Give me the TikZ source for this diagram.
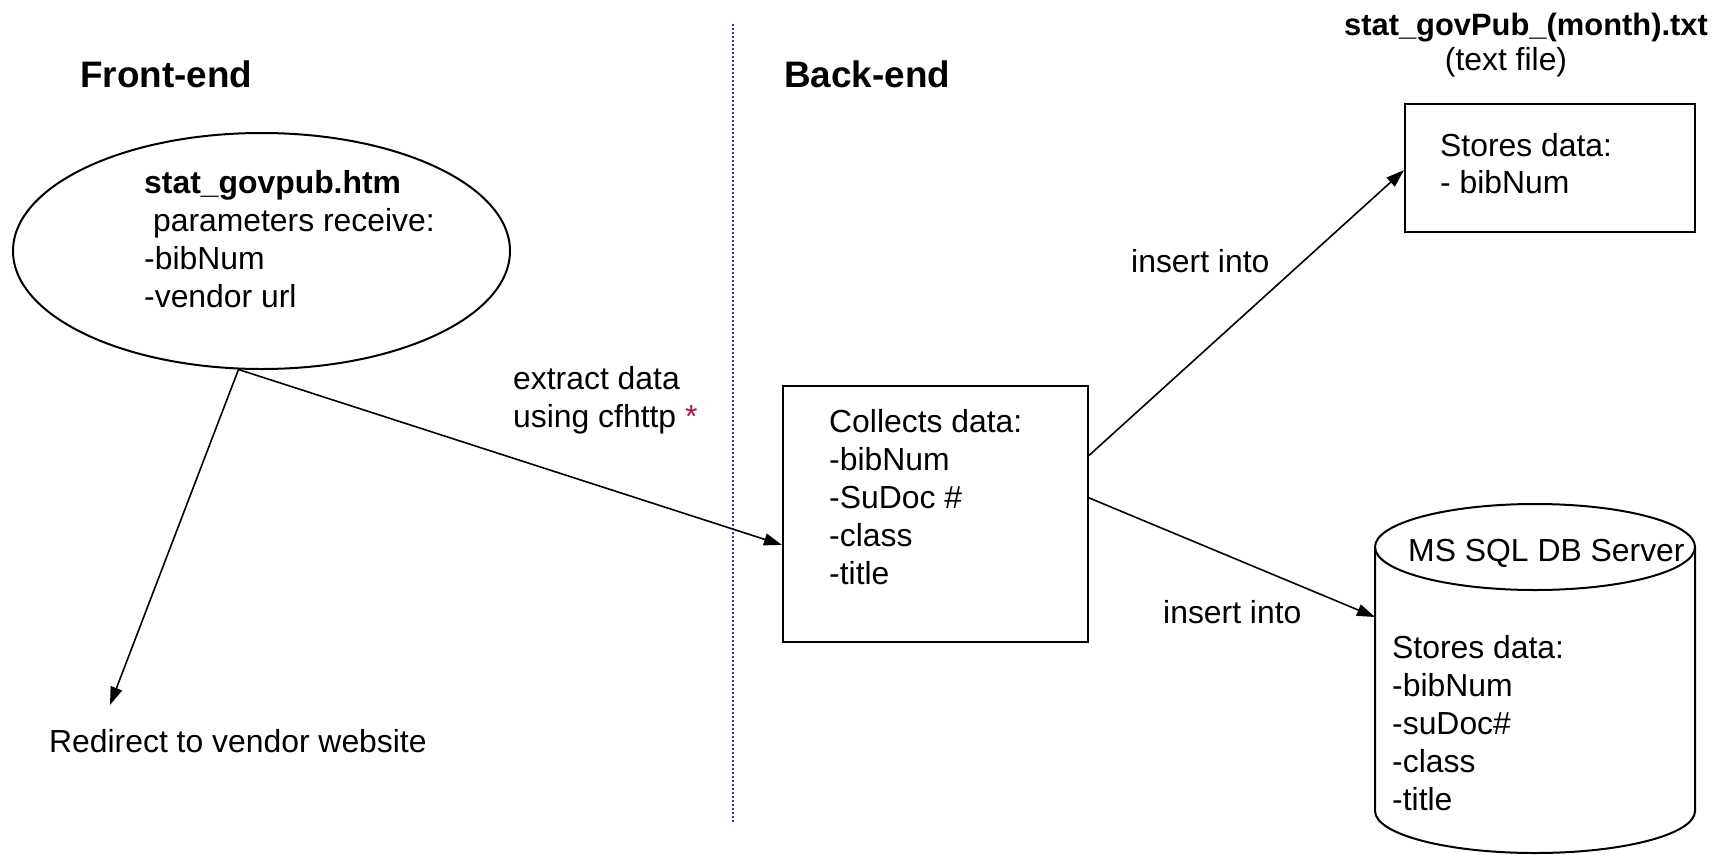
\documentclass[tikz,border=0pt]{standalone}
\usepackage{fontspec}
\setmainfont{Liberation Sans}
\usetikzlibrary{shapes.geometric,arrows.meta,calc}
\definecolor{dotblue}{RGB}{51,51,153}
\definecolor{starred}{RGB}{170,16,56}
\begin{document}
\begin{tikzpicture}[x=1bp,y=-1bp,
  txt/.style={anchor=base west,inner sep=0pt,font=\fontsize{32}{38}\selectfont},
  head/.style={anchor=base west,inner sep=0pt,font=\fontsize{37}{44}\selectfont\bfseries},
  boxshape/.style={draw,line width=2bp,inner sep=0pt},
  arr/.style={line width=1.6bp,-{Triangle[length=18bp,width=12bp]}}]
\useasboundingbox (0,0) rectangle (1735,855);
\fill[white] (0,0) rectangle (1735,855);

% headings and divider
\node[head] (fe) at (80,87) {Front-end};
\node[head] (be) at (784,87) {Back-end};
\coordinate (dtop) at (733,24);
\coordinate (dbot) at (733,823);
\draw[dotblue,line width=2bp,dash pattern=on 2bp off 2bp] (dtop) -- (dbot);

% front-end ellipse
\node[ellipse,boxshape,minimum width=497bp,minimum height=236bp] (ell) at (261.5,251) {};
\node[txt,font=\fontsize{32}{38}\selectfont\bfseries] (e1) at (144,193) {stat\_govpub.htm};
\node[txt] (e2) at (144,231) {\ parameters receive:};
\node[txt] (e3) at (144,269) {-bibNum};
\node[txt] (e4) at (144,307) {-vendor url};

% redirect
\node[txt] (redir) at (49,752) {Redirect to vendor website};
\coordinate (redirtip) at (110,705);
\draw[arr] (ell.259) -- (redirtip);

% collects box
\node[boxshape,minimum width=305bp,minimum height=256bp] (coll) at (935.5,514) {};
\node[txt] (c1) at (829,432) {Collects data:};
\node[txt] (c2) at (829,470) {-bibNum};
\node[txt] (c3) at (829,508) {-SuDoc \#};
\node[txt] (c4) at (829,546) {-class};
\node[txt] (c5) at (829,584) {-title};

\node[txt] (x1) at (513,389) {extract data};
\node[txt] (x2) at (513,427) {using cfhttp {\color{starred}*}};
\draw[arr] (ell.259) -- ($(coll.north west)!0.62!(coll.south west)$);

% text file box
\node[txt,anchor=base,font=\fontsize{31}{38}\selectfont\bfseries] (tfname) at (1526,35) {stat\_govPub\_(month).txt};
\node[txt,anchor=base] (tftype) at (1506,70) {(text file)};
\node[boxshape,minimum width=290bp,minimum height=128bp] (tf) at (1550,168) {};
\node[txt] (t1) at (1440,156) {Stores data:};
\node[txt] (t2) at (1440,193) {- bibNum};

\node[txt] (ins1) at (1131,272) {insert into};
\draw[arr] ($(coll.north east)!0.273!(coll.south east)$) -- ($(tf.north west)!0.516!(tf.south west)$);

% database cylinder
\draw[line width=2bp] (1535,547) ellipse [x radius=160bp, y radius=43bp];
\draw[line width=2bp] (1375,547) -- (1375,811)
  .. controls (1375,834.2) and (1446.6,853) .. (1535,853)
  .. controls (1623.4,853) and (1695,834.2) .. (1695,811) -- (1695,547);
\node[txt] (dbname) at (1408,561) {MS SQL DB Server};
\coordinate (dbin) at (1375,617);
\node[txt] (d1) at (1392,658) {Stores data:};
\node[txt] (d2) at (1392,696) {-bibNum};
\node[txt] (d3) at (1392,734) {-suDoc\#};
\node[txt] (d4) at (1392,772) {-class};
\node[txt] (d5) at (1392,810) {-title};

\node[txt] (ins2) at (1163,623) {insert into};
\draw[arr] ($(coll.north east)!0.4375!(coll.south east)$) -- (dbin);
\end{tikzpicture}
\end{document}
